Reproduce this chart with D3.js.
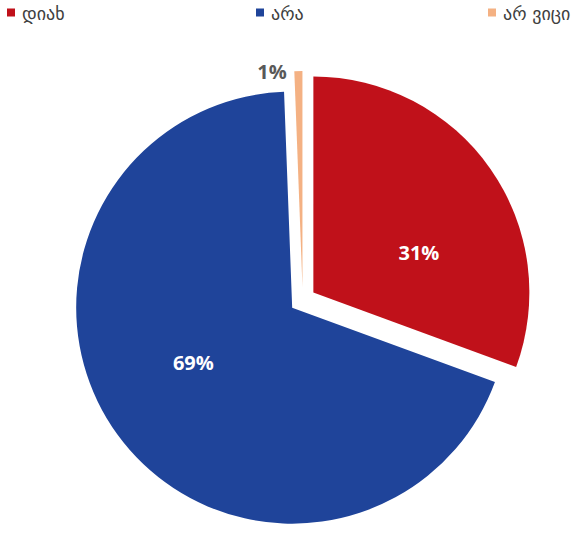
<!DOCTYPE html>
<html>
<head>
<meta charset="utf-8">
<script src="https://cdn.jsdelivr.net/npm/d3@7"></script>
<style>
  html, body { margin: 0; padding: 0; background: #ffffff; }
  svg { display: block; }
</style>
</head>
<body>
<svg id="chart" width="574" height="559"></svg>
<script>
// ---- data ----
const categories = ["დიახ", "არა", "არ ვიცი"];
const values = [30.6, 68.8, 0.6];
const colors = ["#C0111A", "#1F449A", "#F4B183"];

// ---- layout ----
const W = 574, H = 559;
const cx = 302.7, cy = 300, radius = 216, explode = 13;
const legendX = [7, 256, 488];
const labelShiftDeg = [14, 7, 0];

const svg = d3.select("#chart");

const pie = d3.pie().sort(null).value(d => d);
const arcs = pie(values);
const arc = d3.arc().innerRadius(0).outerRadius(radius);

const g = svg.append("g").attr("transform", `translate(${cx},${cy})`);

const slices = g.selectAll("g.slice").data(arcs).enter().append("g")
  .attr("class", "slice")
  .attr("transform", d => {
    const a = (d.startAngle + d.endAngle) / 2;
    return `translate(${explode * Math.sin(a)},${-explode * Math.cos(a)})`;
  });

slices.append("path")
  .attr("d", arc)
  .attr("fill", (d, i) => colors[i]);

// labels
slices.each(function(d, i) {
  const sel = d3.select(this);
  const txt = Math.round(values[i]) + "%";
  if (i < 2) {
    const a = (d.startAngle + d.endAngle) / 2 + labelShiftDeg[i] * Math.PI / 180;
    const lr = 113;
    sel.append("text")
      .attr("x", lr * Math.sin(a))
      .attr("y", -lr * Math.cos(a))
      .attr("text-anchor", "middle")
      .attr("dominant-baseline", "central")
      .attr("font-family", "'Open Sans', sans-serif")
      .attr("font-weight", "bold")
      .attr("font-size", 20)
      .attr("fill", "#ffffff")
      .text(txt);
  } else {
    const a = (d.startAngle + d.endAngle) / 2;
    const lr = radius + 16;
    sel.append("text")
      .attr("x", lr * Math.sin(a) - 26)
      .attr("y", -lr * Math.cos(a) + 16)
      .attr("text-anchor", "middle")
      .attr("dominant-baseline", "central")
      .attr("font-family", "'Open Sans', sans-serif")
      .attr("font-weight", "bold")
      .attr("font-size", 20)
      .attr("fill", "#595959")
      .text(txt);
  }
});

// legend
const legend = svg.append("g").attr("class", "legend");
categories.forEach((c, i) => {
  const lg = legend.append("g").attr("transform", `translate(${legendX[i]},0)`);
  lg.append("rect").attr("x", 0).attr("y", 8.5).attr("width", 8).attr("height", 8)
    .attr("fill", colors[i]);
  lg.append("text").attr("x", 15).attr("y", 19.5)
    .attr("font-family", "'DejaVu Sans', sans-serif")
    .attr("font-size", 18)
    .attr("fill", "#404040")
    .text(c);
});
</script>
</body>
</html>
